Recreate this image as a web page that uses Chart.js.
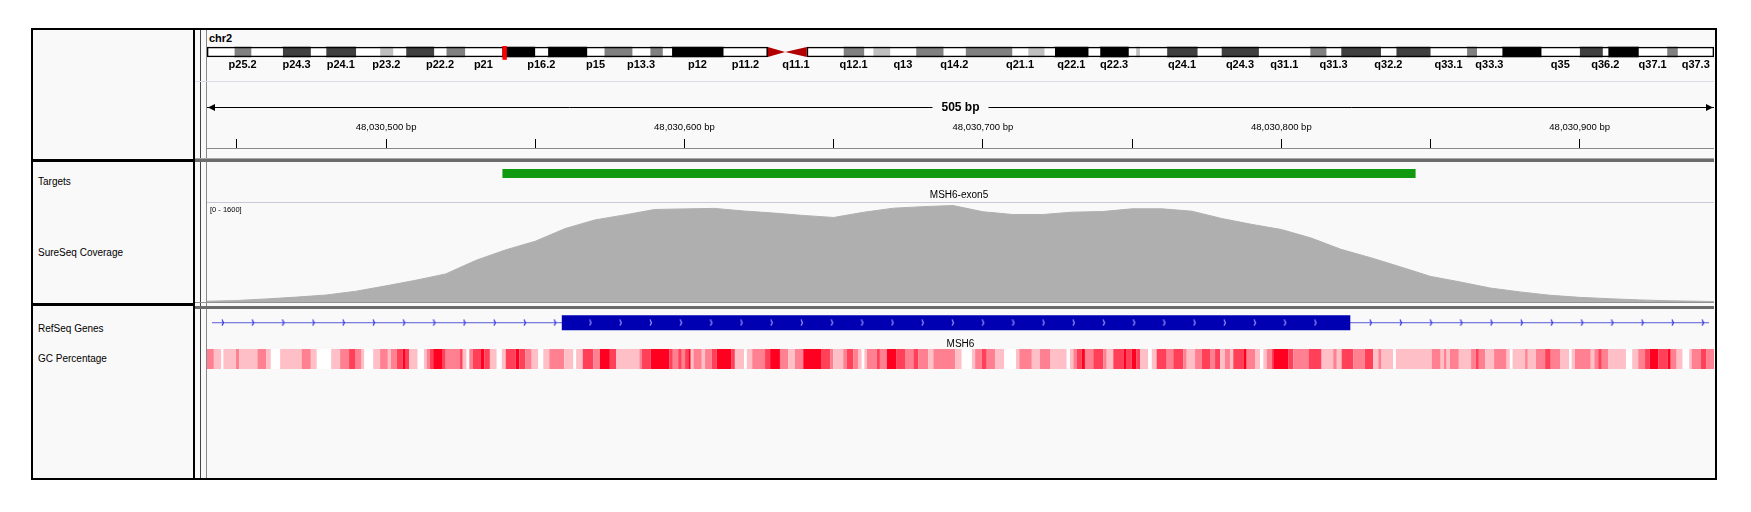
<!DOCTYPE html>
<html>
<head>
<meta charset="utf-8">
<title>MSH6 exon5 - IGV view</title>
<script src="https://cdn.jsdelivr.net/npm/chart.js@4.4.1/dist/chart.umd.min.js"></script>
<style>
body { margin: 0; background: #fff; width: 1751px; height: 512px; position: relative; overflow: hidden;
       font-family: "Liberation Sans", Arial, sans-serif; }
.box { position: absolute; box-sizing: border-box; border: 2px solid #000; background: #f9f9f9; }
.line { position: absolute; }
.lbl { position: absolute; left: 38px; font-size: 10px; line-height: 12px; margin-top: -6px; color: #000; white-space: nowrap; }
.trk { position: absolute; left: 207px; }
</style>
</head>
<body>
<div class="box" style="left:31px;top:28px;width:1686px;height:452px;"></div>
<!-- name panel -->
<div class="box" style="left:31px;top:28px;width:164px;height:133px;"></div>
<div class="box" style="left:31px;top:160px;width:164px;height:145px;"></div>
<div class="box" style="left:31px;top:304px;width:164px;height:176px;"></div>
<div class="line" style="left:200px;top:30px;width:1px;height:448px;background:#444;"></div>
<div class="line" style="left:206px;top:30px;width:1px;height:448px;background:#888;"></div>
<!-- dividers -->
<div class="line" style="left:195px;top:81px;width:1519px;height:1px;background:#dcdce4;"></div>
<div class="line" style="left:195px;top:158px;width:1519px;height:1px;background:#a8a8a8;"></div>
<div class="line" style="left:195px;top:159px;width:1519px;height:3px;background:#6b6b6b;"></div>
<div class="line" style="left:207px;top:202px;width:1507px;height:1px;background:#c8c8d8;"></div>
<div class="line" style="left:195px;top:302px;width:1519px;height:1px;background:#909090;"></div>
<div class="line" style="left:195px;top:306px;width:1519px;height:3px;background:#6b6b6b;"></div>

<div class="lbl" style="top:182px;">Targets</div>
<div class="lbl" style="top:253px;">SureSeq Coverage</div>
<div class="lbl" style="top:329px;">RefSeq Genes</div>
<div class="lbl" style="top:359px;">GC Percentage</div>
<div style="position:absolute;left:209px;top:32px;font-size:11px;font-weight:bold;">chr2</div>

<canvas id="ideo" class="trk" style="top:46px;" width="1507" height="26"></canvas>
<canvas id="ruler" class="trk" style="top:84px;" width="1507" height="66"></canvas>
<canvas id="targets" class="trk" style="top:163px;" width="1507" height="39"></canvas>
<canvas id="coverage" class="trk" style="top:203px;" width="1507" height="99"></canvas>
<canvas id="gene" class="trk" style="top:310px;" width="1507" height="38"></canvas>
<canvas id="gc" class="trk" style="top:349px;" width="1507" height="20"></canvas>

<script>
Chart.defaults.font.family = '"Liberation Sans", Arial, sans-serif';

// view
const regionStart = 48030440;
const regionEnd = 48030945;
const rulerTicks = [48030450, 48030500, 48030550, 48030600, 48030650, 48030700,
                    48030750, 48030800, 48030850, 48030900];

// chr2 cytobands (Mb), stain: 0 gneg, 25..100 gpos, -1 acen
const chrLength = 243.2;
const bandNames = ['p25.3','p25.2','p25.1','p24.3','p24.2','p24.1','p23.3','p23.2','p23.1','p22.3','p22.2','p22.1','p21',
  'p16.3','p16.2','p16.1','p15','p14','p13.3','p13.2','p13.1','p12','p11.2','p11.1','q11.1','q11.2','q12.1','q12.2','q12.3',
  'q13','q14.1','q14.2','q14.3','q21.1','q21.2','q21.3','q22.1','q22.2','q22.3','q23.1','q23.2','q23.3','q24.1','q24.2','q24.3',
  'q31.1','q31.2','q31.3','q32.1','q32.2','q32.3','q33.1','q33.2','q33.3','q34','q35','q36.1','q36.2','q36.3','q37.1','q37.2','q37.3'];
const bandStarts = [0,4.4,7.1,12.2,16.7,19.2,24.0,27.9,30.0,32.1,36.6,38.6,41.6,
  47.6,52.9,55.0,61.3,64.1,68.6,71.5,73.5,75.0,83.3,90.5,93.3,96.8,102.7,106.0,107.5,
  110.2,114.4,118.8,122.4,129.9,132.5,135.1,136.8,142.2,144.1,148.7,149.9,150.5,154.9,159.8,163.7,
  169.7,178.0,180.6,183.0,189.4,191.9,197.4,203.3,204.9,209.0,215.3,221.5,225.2,226.1,231.0,235.6,237.3];
const bandStains = [0,50,0,75,0,75,0,25,0,75,0,50,0,
  100,0,100,0,50,0,50,0,100,0,-1,-1,0,50,0,25,
  0,50,0,50,0,25,0,100,0,100,0,25,0,75,0,75,
  0,50,0,75,0,75,0,50,0,100,0,75,0,100,0,50,0];
const shownBands = ['p25.2','p24.3','p24.1','p23.2','p22.2','p21','p16.2','p15','p13.3','p12','p11.2','q11.1',
  'q12.1','q13','q14.2','q21.1','q22.1','q22.3','q24.1','q24.3','q31.1','q31.3','q32.2','q33.1','q33.3',
  'q35','q36.2','q37.1','q37.3'];

// tracks
const targetStarts = [48030539];
const targetEnds = [48030845];
const targetNames = ['MSH6-exon5'];

const exonStarts = [48030558];
const exonEnds = [48030824];
const geneName = 'MSH6';

// coverage, offset from regionStart (bp) and depth
const covOffsets = [0,10,20,30,40,50,60,70,80,90,100,110,120,130,140,150,160,170,180,190,200,
  210,220,230,240,250,260,270,280,290,300,310,320,330,340,350,360,370,380,390,400,
  410,420,430,440,450,460,470,480,490,500,505];
const covValues = [13,24,50,79,113,175,261,352,454,671,841,982,1186,1327,1408,1495,1505,1513,1470,1437,1398,
  1366,1450,1516,1541,1559,1459,1414,1414,1452,1462,1506,1506,1468,1350,1255,1172,1034,851,715,567,
  414,323,226,163,109,75,53,34,20,12,8];
const covMax = 1600;

// GC percentage: end of each run (bp offset) and GC class 0 (low) .. 4 (high)
const gcEnds = [2.3,4.8,5.5,9.7,10.8,16.9,19.8,21.4,24.5,31.7,34.8,36.8,41.6,44.6,47.6,49.6,51.8,52.7,55.7,58.0,
  60.6,61.6,63.6,65.6,66.6,67.8,70.6,72.7,73.6,74.7,75.8,79.0,80.0,84.8,85.7,87.0,87.9,89.0,91.8,92.9,
  94.8,97.1,98.8,100.1,103.4,104.7,106.6,108.8,111.0,112.7,114.7,119.7,122.8,123.7,125.9,129.4,131.7,
  135.0,137.1,144.9,145.7,148.7,154.9,156.1,157.9,159.1,160.2,161.3,162.1,163.0,165.8,166.9,169.1,170.8,
  175.8,176.9,180.0,180.9,182.7,187.0,188.7,192.0,194.8,197.0,199.8,206.0,208.8,209.9,213.2,214.4,216.6,
  218.3,219.4,220.3,221.1,224.4,225.5,227.8,231.1,233.9,236.7,238.4,241.7,243.4,250.7,252.9,256.3,257.4,
  259.6,261.3,264.1,267.1,
  271.1,272.2,276.4,279.1,282.5,288.1,289.2,290.3,291.4,293.1,294.2,297.0,300.4,301.5,303.7,307.1,308.2,
  309.9,311.5,312.7,315.4,316.6,318.2,321.6,323.8,327.2,328.3,331.1,333.3,336.1,337.8,339.5,341.1,342.8,
  343.9,347.3,348.4,351.2,352.9,354.0,355.1,356.8,357.3,362.3,364.0,369.1,373.5,377.4,378.6,380.2,384.1,
  388.0,390.8,392.5,393.6,397.5,398.4,
  410.4,413.4,414.5,415.4,416.5,419.5,423.6,425.2,426.2,428.3,431.3,435.5,436.6,437.5,441.7,442.6,445.3,
  448.4,450.3,453.4,456.5,457.3,458.4,463.7,464.9,466.2,467.4,469.6,475.5,477.6,479.6,481.9,483.5,486.3,
  489.4,490.5,492.5,494.5,496.7,497.5,500.5,502.5,505.0];
const gcClass = [2,1,0,1,2,1,2,1,0,1,2,1,0,1,2,3,2,1,0,1,
  2,1,2,3,4,3,1,0,1,2,3,4,3,2,3,1,0,2,3,4,
  3,1,0,1,3,4,3,2,1,0,1,2,1,0,1,3,2,
  4,3,1,2,3,4,3,2,3,2,3,4,1,2,1,2,3,
  4,3,1,0,1,2,3,4,2,1,2,4,3,2,1,2,3,
  2,1,0,1,2,3,2,4,3,2,3,2,1,2,1,0,1,
  2,3,2,1,
  0,1,2,1,2,1,0,1,2,3,4,2,3,2,1,3,4,
  3,4,3,1,0,1,3,2,3,2,1,2,3,2,3,1,2,
  1,3,4,2,1,0,1,2,3,4,3,2,3,1,2,1,3,
  2,3,1,2,1,0,
  1,2,1,2,1,2,1,2,3,2,1,2,1,0,1,2,1,
  2,3,2,1,0,1,2,1,2,3,2,1,0,1,2,3,4,
  3,4,2,1,0,1,2,3,2];

// ---------- helpers ----------
const bandEnds = bandStarts.slice(1).concat([chrLength]);
function stainColor(s) {
  if (s < 0) return 'rgba(0,0,0,0)';
  const v = Math.round(255 - s / 100 * 255);
  return `rgb(${v},${v},${v})`;
}
function gcColor(c) {
  const t = c / 4;
  return `rgb(255,${Math.round(255 - 255 * t)},${Math.round(255 - 223 * t)})`;
}
function chevron(color, w, h) {
  const c = document.createElement('canvas');
  c.width = w; c.height = h;
  const g = c.getContext('2d');
  g.strokeStyle = color; g.lineWidth = 1.2;
  g.beginPath(); g.moveTo(1, 0.5); g.lineTo(w - 1.5, h / 2); g.lineTo(1, h - 0.5); g.stroke();
  return c;
}
const base = {
  animation: false, responsive: false, devicePixelRatio: 1, events: [],
  layout: { padding: 0 },
  plugins: { legend: { display: false }, tooltip: { enabled: false } }
};
const hidden = (min, max) => ({ type: 'linear', display: false, min: min, max: max });

// ---------- ideogram ----------
// note: chart.js paints datasets with lower `order` on top
const acen = bandStains.map((s, i) => s < 0 ? i : -1).filter(i => i >= 0);
const pArmEnd = bandStarts[acen[0]] , qArmStart = bandEnds[acen[acen.length - 1]];
const viewMb = (regionStart + regionEnd) / 2e6;
const ideoSets = bandNames.map((n, i) => ({
  data: [[bandStarts[i], bandEnds[i]]], backgroundColor: stainColor(bandStains[i]),
  borderWidth: 0, barThickness: 10, grouped: false, clip: false, order: 2
}));
[[0, pArmEnd], [qArmStart, chrLength]].forEach(r => ideoSets.push({
  data: [r], backgroundColor: 'rgba(0,0,0,0)', borderColor: '#000', borderWidth: 1,
  borderSkipped: false, barThickness: 10, grouped: false, clip: false, order: 1
}));
ideoSets.push({ data: [[viewMb - 0.3, viewMb + 0.3]], backgroundColor: '#ff0000',
  borderWidth: 0, barThickness: 15, grouped: false, clip: false, order: 0 });

const centromere = {
  id: 'centromere',
  afterDatasetsDraw(chart) {
    const { ctx, scales: { x, y } } = chart;
    const yc = y.getPixelForValue(0), h = 5;
    ctx.save();
    ctx.fillStyle = '#b20000';
    acen.forEach(i => {
      const x0 = x.getPixelForValue(bandStarts[i]), x1 = x.getPixelForValue(bandEnds[i]);
      ctx.beginPath();
      if (bandNames[i][0] === 'p') { ctx.moveTo(x0, yc - h); ctx.lineTo(x0, yc + h); ctx.lineTo(x1, yc); }
      else { ctx.moveTo(x1, yc - h); ctx.lineTo(x1, yc + h); ctx.lineTo(x0, yc); }
      ctx.fill();
    });
    ctx.restore();
  }
};
const shownIdx = shownBands.map(n => bandNames.indexOf(n));
new Chart(document.getElementById('ideo'), {
  type: 'bar',
  data: { labels: ['chr2'], datasets: ideoSets },
  options: Object.assign({}, base, {
    indexAxis: 'y',
    scales: {
      x: { type: 'linear', min: 0, max: chrLength, position: 'bottom',
        grid: { display: false, drawTicks: false }, border: { display: false },
        afterBuildTicks: a => { a.ticks = shownIdx.map(i => ({ value: (bandStarts[i] + bandEnds[i]) / 2 })); },
        afterFit: a => { a.height = 14; },
        ticks: { autoSkip: false, maxRotation: 0, minRotation: 0, padding: 0, color: '#000',
          font: { size: 11, weight: 'bold' }, callback: (v, i) => shownBands[i] } },
      y: { display: false }
    }
  }),
  plugins: [centromere]
});

// ---------- ruler ----------
const spanArrow = {
  id: 'spanArrow',
  afterDraw(chart) {
    const { ctx } = chart, x = chart.scales.x;
    const l = x.left, r = x.right, y = 23.5, mid = (l + r) / 2;
    const txt = Math.round(x.max - x.min) + ' bp';
    ctx.save();
    ctx.font = 'bold 12px "Liberation Sans", Arial, sans-serif';
    const w = ctx.measureText(txt).width;
    ctx.strokeStyle = '#000'; ctx.fillStyle = '#000'; ctx.lineWidth = 1;
    ctx.beginPath();
    ctx.moveTo(l, y); ctx.lineTo(mid - w / 2 - 9, y);
    ctx.moveTo(mid + w / 2 + 9, y); ctx.lineTo(r, y);
    ctx.stroke();
    ctx.beginPath(); ctx.moveTo(l + 1, y); ctx.lineTo(l + 8, y - 3.5); ctx.lineTo(l + 8, y + 3.5); ctx.fill();
    ctx.beginPath(); ctx.moveTo(r - 1, y); ctx.lineTo(r - 8, y - 3.5); ctx.lineTo(r - 8, y + 3.5); ctx.fill();
    ctx.textAlign = 'center'; ctx.textBaseline = 'middle';
    ctx.fillText(txt, mid, y);
    ctx.restore();
  }
};
new Chart(document.getElementById('ruler'), {
  type: 'scatter',
  data: { datasets: [] },
  options: Object.assign({}, base, {
    scales: {
      x: { type: 'linear', position: 'top', min: regionStart, max: regionEnd,
        afterBuildTicks: a => { a.ticks = rulerTicks.map(v => ({ value: v })); },
        afterFit: a => { a.height = 64; },
        grid: { display: true, drawOnChartArea: false, drawTicks: true, tickLength: 9, tickColor: '#000', color: '#000' },
        border: { display: true, color: '#8a8a8a' },
        ticks: { autoSkip: false, maxRotation: 0, minRotation: 0, padding: 6, color: '#000',
          font: { size: 9.5 },
          callback: v => v % 100 === 0 ? v.toLocaleString('en-US') + ' bp' : '' } },
      y: { display: false }
    }
  }),
  plugins: [spanArrow]
});

// ---------- targets ----------
const featureLabel = (names, starts, ends, dy, font) => ({
  id: 'featureLabel',
  afterDatasetsDraw(chart) {
    const { ctx, scales: { x, y } } = chart;
    ctx.save();
    ctx.font = font; ctx.fillStyle = '#000'; ctx.textAlign = 'center'; ctx.textBaseline = 'middle';
    names.forEach((n, i) => {
      const a = Math.max(x.getPixelForValue(starts[i]), x.left);
      const b = Math.min(x.getPixelForValue(ends[i]), x.right);
      ctx.fillText(n, (a + b) / 2, y.getPixelForValue(0) + dy);
    });
    ctx.restore();
  }
});
new Chart(document.getElementById('targets'), {
  type: 'line',
  data: { datasets: targetStarts.map((s, i) => ({
    data: [{ x: s, y: 0 }, { x: targetEnds[i], y: 0 }],
    borderColor: '#109a10', borderWidth: 9, borderCapStyle: 'butt', pointRadius: 0
  })) },
  options: Object.assign({}, base, {
    scales: { x: hidden(regionStart, regionEnd), y: hidden(-28.5, 10.5) }
  }),
  plugins: [featureLabel(targetNames, targetStarts, targetEnds, 22, '10px "Liberation Sans", Arial, sans-serif')]
});

// ---------- coverage ----------
const rangeLabel = {
  id: 'rangeLabel',
  afterDraw(chart) {
    const { ctx } = chart, y = chart.scales.y;
    ctx.save();
    ctx.font = '7.5px "Liberation Sans", Arial, sans-serif';
    ctx.fillStyle = '#000'; ctx.textBaseline = 'middle';
    ctx.fillText('[' + y.min + ' - ' + y.max + ']', 3, 7);
    ctx.restore();
  }
};
new Chart(document.getElementById('coverage'), {
  type: 'line',
  data: { datasets: [{
    data: covOffsets.map((o, i) => ({ x: regionStart + o, y: covValues[i] })),
    borderColor: '#afafaf', backgroundColor: '#afafaf', borderWidth: 1,
    fill: 'origin', pointRadius: 0, tension: 0
  }] },
  options: Object.assign({}, base, {
    scales: { x: hidden(regionStart, regionEnd), y: hidden(0, covMax) }
  }),
  plugins: [rangeLabel]
});

// ---------- RefSeq gene ----------
const chevStep = 10.19;
const intronChev = [], exonChev = [];
for (let p = regionStart + 3.7; p < regionEnd; p += chevStep) intronChev.push({ x: p, y: 0 });
exonStarts.forEach((s, i) => {
  for (let p = s + 9.7; p < exonEnds[i] - 3; p += chevStep) exonChev.push({ x: p, y: 0 });
});
new Chart(document.getElementById('gene'), {
  type: 'line',
  data: { datasets: [
    { data: [{ x: regionStart, y: 0 }, { x: regionEnd, y: 0 }], borderColor: '#5a5ad6', borderWidth: 1,
      pointRadius: 0, order: 3 },
    { data: intronChev, showLine: false, pointStyle: chevron('#2e2ee0', 4, 7), pointRadius: 3, order: 2 },
    ...exonStarts.map((s, i) => ({ data: [{ x: s, y: 0 }, { x: exonEnds[i], y: 0 }],
      borderColor: '#0000b2', borderWidth: 15, borderCapStyle: 'butt', pointRadius: 0, order: 1 })),
    { data: exonChev, showLine: false, pointStyle: chevron('#9a9aff', 4, 7), pointRadius: 3, order: 0 }
  ] },
  options: Object.assign({}, base, {
    scales: { x: hidden(regionStart, regionEnd), y: hidden(-27.5, 10.5) }
  }),
  plugins: [featureLabel([geneName], [regionStart], [regionEnd], 21.5, '10px "Liberation Sans", Arial, sans-serif')]
});

// ---------- GC percentage ----------
const gcPoints = [{ x: regionStart, y: 0 }].concat(gcEnds.map(e => ({ x: regionStart + e, y: 0 })));
new Chart(document.getElementById('gc'), {
  type: 'line',
  data: { datasets: [{
    data: gcPoints, borderWidth: 20, borderCapStyle: 'butt', pointRadius: 0,
    borderColor: '#fff',
    segment: { borderColor: c => gcColor(gcClass[c.p0DataIndex] || 0) }
  }] },
  options: Object.assign({}, base, {
    scales: { x: hidden(regionStart, regionEnd), y: hidden(-1, 1) }
  })
});
</script>
</body>
</html>
